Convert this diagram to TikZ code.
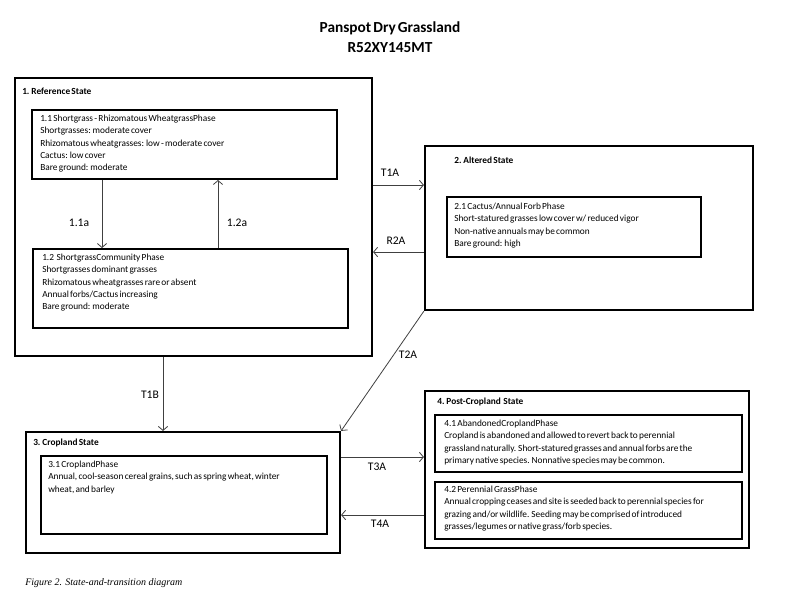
\documentclass[tikz,border=0pt]{standalone}
\usepackage{fontspec}
\setmainfont[WordSpace=0.6]{Carlito}
\newfontfamily\capfont{Liberation Serif}
\usetikzlibrary{arrows.meta,fit}
\begin{document}
\begin{tikzpicture}[x=0.75pt,y=-0.75pt,
  box/.style={draw, line width=1.6pt, inner sep=0pt},
  inbox/.style={draw, line width=1.5pt, inner sep=0pt},
  body/.style={anchor=north west, inner sep=0pt, align=left, font=\fontsize{7}{9.15}\selectfont},
  ttl/.style={anchor=west, inner sep=0pt, font=\fontsize{7}{9}\selectfont\bfseries},
  lbl/.style={inner sep=0pt, font=\fontsize{8.7}{10}\selectfont},
  arr/.style={draw=black!75, line width=0.6pt, -{Straight Barb[length=3pt,width=7pt]}}
]
\fill[white] (0,0) rectangle (800,600);
\useasboundingbox (0,0) rectangle (800,600);

% title
\node[inner sep=0pt, align=center, font=\fontsize{11.5}{15}\selectfont\bfseries] (title) at (390,37)
  {Panspot Dry Grassland\\R52XY145MT};

% states
\node[box, fit={(15,78) (372,356)}] (s1) {};
\node[box, fit={(425,146) (753,310)}] (s2) {};
\node[box, fit={(26,432) (340,553)}] (s3) {};
\node[box, fit={(425,391) (749,548)}] (s4) {};

\node[ttl] (t1) at (22,91) {1. Reference State};
\node[ttl] (t2) at (454,160) {2. Altered State};
\node[ttl] (t3) at (33,443) {3. Cropland State};
\node[ttl] (t4) at (437,402) {4. Post-Cropland\ \ State};

% phases
\node[inbox, fit={(32,110) (337,179)}] (b11) {};
\node[inbox, fit={(33,249) (348,328)}] (b12) {};
\node[inbox, fit={(447,197) (701,257)}] (b21) {};
\node[inbox, fit={(41,456) (327,534)}] (b31) {};
\node[inbox, fit={(435,415) (742,472)}] (b41) {};
\node[inbox, fit={(435,482) (742,539)}] (b42) {};

\node[body] (x11) at (40,115) {1.1 Shortgrass - Rhizomatous WheatgrassPhase\\
Shortgrasses: moderate cover\\
Rhizomatous wheatgrasses: low - moderate cover\\
Cactus: low cover\\
Bare ground: moderate};
\node[body] (x12) at (42,254) {1.2\ \ ShortgrassCommunity Phase\\
Shortgrasses dominant grasses\\
Rhizomatous wheatgrasses rare or absent\\
Annual forbs/Cactus increasing\\
Bare ground: moderate};
\node[body] (x21) at (454,203) {2.1 Cactus/Annual Forb Phase\\
Short-statured grasses low cover w/ reduced vigor\\
Non-native annuals may be common\\
Bare ground: high};
\node[body] (x31) at (48,461) {3.1 CroplandPhase\\
Annual, cool-season cereal grains, such as spring wheat, winter\\
wheat, and barley};
\node[body] (x41) at (444,420) {4.1 AbandonedCroplandPhase\\
Cropland is abandoned and allowed to revert back to perennial\\
grassland naturally. Short-statured grasses and annual forbs are the\\
primary native species. Nonnative species may be common.};
\node[body] (x42) at (444,486) {4.2 Perennial GrassPhase\\
Annual cropping ceases and site is seeded back to perennial species for\\
grazing and/or wildlife. Seeding may be comprised of introduced\\
grasses/legumes or native grass/forb species.};

% connectors
\coordinate (xa) at (102,0);
\coordinate (xb) at (218,0);
\coordinate (xc) at (163,0);
\coordinate (ya) at (0,185);
\coordinate (yb) at (0,252);
\coordinate (yc) at (0,457);
\coordinate (yd) at (0,515);
\draw[arr] (xa |- b11.south) -- (xa |- b12.north);
\draw[arr] (xb |- b12.north) -- (xb |- b11.south);
\draw[arr] (ya -| s1.east) -- (ya -| s2.west);
\draw[arr] (yb -| s2.west) -- (yb -| s1.east);
\draw[arr] (s2.south west) -- (s3.north east);
\draw[arr] (xc |- s1.south) -- (xc |- s3.north);
\draw[arr] (yc -| s3.east) -- (yc -| s4.west);
\draw[arr] (yd -| s4.west) -- (yd -| s3.east);

\node[lbl] (l11a) at (79,223) {1.1a};
\node[lbl] (l12a) at (237,223) {1.2a};
\node[lbl] (lT1A) at (390,173) {T1A};
\node[lbl] (lR2A) at (396,241) {R2A};
\node[lbl] (lT2A) at (408,355) {T2A};
\node[lbl] (lT1B) at (150,395) {T1B};
\node[lbl] (lT3A) at (377,467) {T3A};
\node[lbl] (lT4A) at (380,524) {T4A};

% caption
\node[anchor=west, inner sep=0pt, font=\capfont\itshape\fontsize{7.5}{9}\selectfont] (cap) at (25,583)
  {Figure 2. State-and-transition diagram};
\end{tikzpicture}
\end{document}
